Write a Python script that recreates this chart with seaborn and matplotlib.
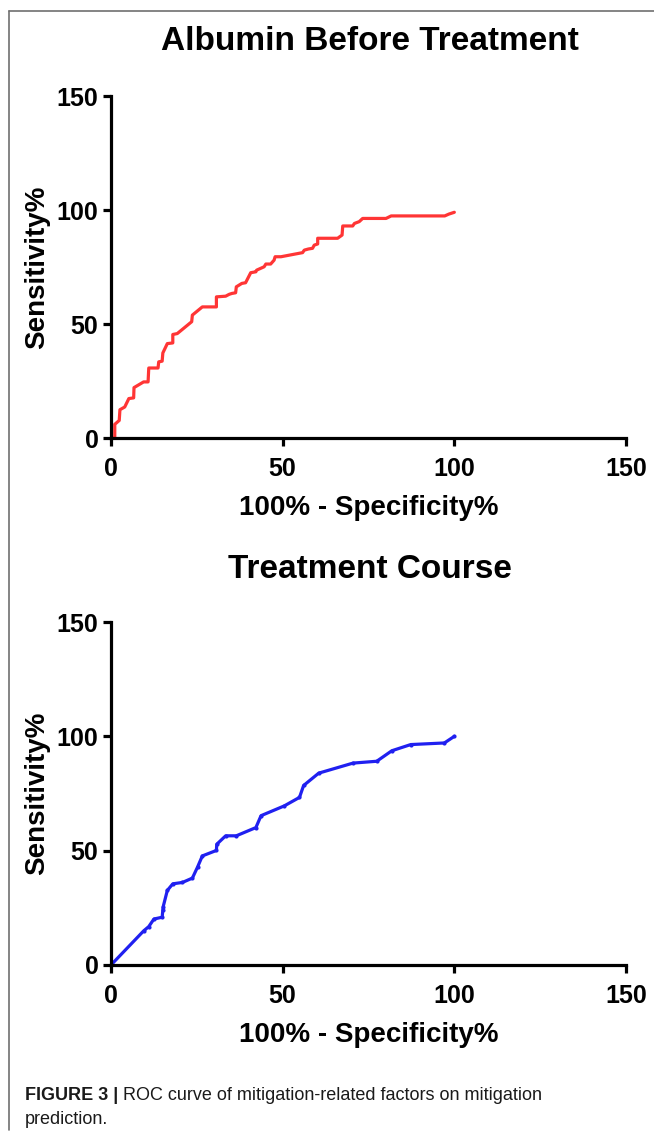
import matplotlib
matplotlib.use("Agg")
import matplotlib.pyplot as plt
import seaborn as sns
from matplotlib.lines import Line2D

# Albumin before treatment ROC
alb_fpr = [0, 1.1, 1.1, 2.4, 2.6, 4.0, 5.2, 6.6, 6.7, 9.5, 10.8, 11.0, 13.7, 13.9,
           14.9, 15.1, 16.4, 18.0, 18.0, 19.3, 23.5, 23.7, 26.6, 30.7, 30.7, 33.4,
           34.4, 35.2, 36.3, 36.5, 38.1, 39.2, 40.7, 42.2, 42.4, 44.6, 45.1, 46.5,
           47.5, 47.8, 49.5, 55.8, 56.3, 57.5, 58.7, 59.2, 60.2, 60.2, 66.0, 67.3,
           67.5, 70.4, 70.9, 72.3, 73.3, 80.1, 81.6, 97.2, 98.4, 100]
alb_tpr = [0, 0, 6.0, 7.7, 12.4, 13.6, 17.3, 17.6, 22.1, 24.6, 24.6, 30.7, 30.7, 33.4,
           33.7, 37.3, 41.4, 41.7, 45.4, 45.8, 51.0, 53.9, 57.5, 57.5, 61.9, 62.2,
           63.0, 63.4, 63.7, 66.3, 67.8, 68.1, 72.5, 72.9, 73.6, 75.1, 76.3, 76.3,
           78.0, 79.5, 79.5, 81.3, 82.4, 82.9, 83.2, 84.6, 85.1, 87.6, 87.6, 89.0,
           93.0, 93.0, 94.1, 94.9, 96.3, 96.3, 97.4, 97.4, 98.2, 99.0]

# Treatment course ROC
course_fpr = [0, 9.5, 11.0, 12.5, 14.9, 15.1, 15.2, 16.4, 18.0, 20.8, 23.7, 25.2,
              26.6, 30.7, 30.8, 33.4, 36.5, 42.2, 43.7, 50.5, 54.9, 56.1, 60.5,
              70.5, 77.4, 81.8, 87.3, 97.1, 100]
course_tpr = [0, 14.9, 16.8, 20.1, 20.9, 24.1, 25.5, 32.6, 35.5, 36.1, 38.0, 42.8,
              47.7, 50.1, 52.8, 56.5, 56.5, 60.1, 65.3, 69.6, 73.3, 78.5, 83.9,
              88.3, 89.1, 93.7, 96.4, 97.1, 100]

titles = ["Albumin Before Treatment", "Treatment Course"]
ticks = [0, 50, 100, 150]

sns.set_style("ticks")
plt.rcParams['font.family'] = ['Liberation Sans', 'DejaVu Sans']
plt.rcParams['text.color'] = 'black'
plt.rcParams['axes.labelcolor'] = 'black'

W, H = 654, 1134
fig = plt.figure(figsize=(W / 100, H / 100), dpi=100)

# axes boxes in pixels: left, top(y=150), right(x=150), bottom(y=0)
boxes = [(111, 96, 626, 438), (111, 622, 626, 965)]
curves = [(alb_fpr, alb_tpr, "#ff3535", None), (course_fpr, course_tpr, "#2020f0", "o")]
title_y = [41, 569]

for (l, t, r, b), (xs, ys, col, mk), title, ty in zip(boxes, curves, titles, title_y):
    ax = fig.add_axes([l / W, 1 - b / H, (r - l) / W, (b - t) / H])
    sns.lineplot(x=xs, y=ys, ax=ax, color=col, linewidth=2.3, sort=False,
                 estimator=None, marker=mk, markersize=3, markeredgewidth=0)
    ax.set_xlim(0, 150)
    ax.set_ylim(0, 150)
    ax.set_xticks(ticks)
    ax.set_yticks(ticks)
    for side in ["top", "right"]:
        ax.spines[side].set_visible(False)
    for side in ["left", "bottom"]:
        ax.spines[side].set_linewidth(2.3)
        ax.spines[side].set_color("black")
    ax.tick_params(axis="both", direction="out", length=6, width=2.3,
                   labelsize=18, colors="black")
    ax.tick_params(axis="x", pad=8)
    ax.tick_params(axis="y", pad=3)
    for lab in ax.get_xticklabels() + ax.get_yticklabels():
        lab.set_fontweight("bold")
    ax.set_xlabel("100% - Specificity%", fontsize=20, fontweight="bold")
    ax.set_ylabel("Sensitivity%", fontsize=20, fontweight="bold")
    ax.xaxis.set_label_coords(0.5, -57 / (b - t))
    ax.yaxis.set_label_coords((50 - l) / (r - l), 0.5)
    ax.patch.set_visible(False)
    fig.text(370 / W, 1 - ty / H, title, ha="center", va="center",
             fontsize=24, fontweight="bold")

# page frame lines
fig.add_artist(Line2D([9 / W, 1], [1 - 11 / H, 1 - 11 / H], color="#707070", lw=1.2))
fig.add_artist(Line2D([9 / W, 9 / W], [1 - 11 / H, 1 - 1130 / H], color="#707070", lw=1.2))

# caption
cap = fig.text(25 / W, 1 - 1095 / H, "FIGURE 3 |", fontsize=13, fontweight="bold",
               va="center", ha="left", color="#1a1a1a")
fig.axes[0].annotate(" ROC curve of mitigation-related factors on mitigation",
                     xy=(1, 0), xycoords=cap, va="bottom", ha="left",
                     fontsize=13, color="#1a1a1a", annotation_clip=False)
fig.text(25 / W, 1 - 1120 / H, "prediction.", fontsize=13, va="center",
         ha="left", color="#1a1a1a")

fig.savefig("out.png", dpi=100)
